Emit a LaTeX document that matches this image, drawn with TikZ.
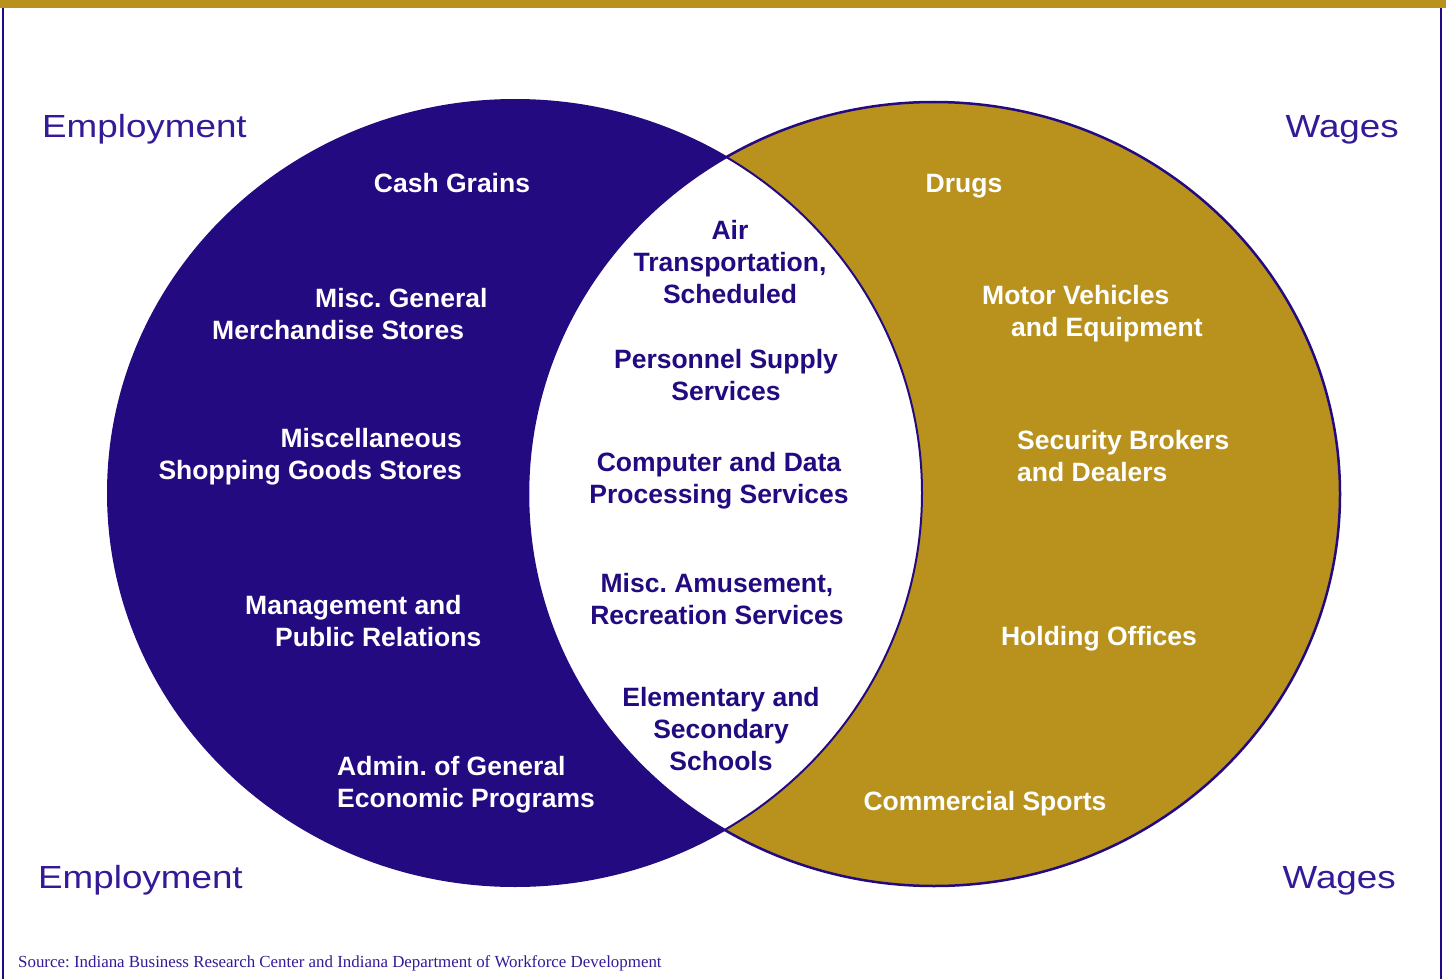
\documentclass[tikz,border=0pt]{standalone}
\usepackage{fontspec}
\setmainfont{Liberation Sans}
\newfontfamily\sidefont[FakeStretch=1.15]{Liberation Sans}
\newfontfamily\srcfont{Liberation Serif}
\usetikzlibrary{positioning}
\frenchspacing
\definecolor{vennpurple}{RGB}{36,10,128}
\definecolor{venngold}{RGB}{184,146,28}
\definecolor{labelpurple}{RGB}{52,26,150}
\tikzstyle{inlabel} = [text=white, inner sep=0pt, font=\fontsize{26.5}{32}\selectfont\bfseries]
\tikzstyle{midlabel} = [text=vennpurple, inner sep=0pt, align=center, font=\fontsize{26.5}{32}\selectfont\bfseries]
\tikzstyle{sidelabel} = [text=labelpurple, inner sep=0pt, font=\sidefont\fontsize{32}{38}\selectfont]
\tikzstyle{srclabel} = [text=labelpurple, inner sep=0pt, anchor=base west, font=\srcfont\fontsize{16.9}{20}\selectfont]

\begin{document}
\begin{tikzpicture}[x=1pt,y=-1pt]
\useasboundingbox (0,0) rectangle (1446,979);
\fill[venngold] (0,0) rectangle (1446,8);
\draw[vennpurple,line width=2pt] (3,8) -- (3,979);
\draw[vennpurple,line width=2pt] (1441,8) -- (1441,979);

\fill[vennpurple] (515,493) ellipse [x radius=407pt, y radius=393pt];
\fill[venngold] (934,494) ellipse [x radius=406pt, y radius=392pt];
\begin{scope}
\clip (515,493) ellipse [x radius=407pt, y radius=393pt];
\fill[white] (934,494) ellipse [x radius=406pt, y radius=392pt];
\end{scope}
\draw[vennpurple,line width=2.5pt] (934,494) ellipse [x radius=406pt, y radius=392pt];
\draw[vennpurple,line width=2pt] (515,493) ellipse [x radius=407pt, y radius=393pt];

\node (emptop) [sidelabel,anchor=base west] at (42,138) {Employment};
\node (wagtop) [sidelabel,anchor=base east] at (1399,138) {Wages};
\node (empbot) [sidelabel,anchor=base west] at (38,888) {Employment};
\node (wagbot) [sidelabel,anchor=base east] at (1396,888) {Wages};

\node (grains) [inlabel,anchor=base] at (452,192) {Cash Grains};
\node (merch) [inlabel,anchor=west,align=left] at (212,314) {\hspace*{103pt}Misc. General\\Merchandise Stores};
\node (shop) [inlabel,anchor=east,align=right] at (462,457) {Miscellaneous\\Shopping Goods Stores};
\node (mgmt) [inlabel,anchor=west,align=left] at (245,621) {Management and\\\hspace*{30pt}Public Relations};
\node (admin) [inlabel,anchor=west,align=left] at (337,785) {Admin. of General\\Economic Programs};

\node (drugs) [inlabel,anchor=base] at (964,192) {Drugs};
\node (motor) [inlabel,anchor=west,align=left] at (982,314) {Motor Vehicles\\\hspace*{29pt}and Equipment};
\node (broker) [inlabel,anchor=west,align=left] at (1017,456) {Security Brokers\\and Dealers};
\node (holding) [inlabel,anchor=base] at (1099,645) {Holding Offices};
\node (sports) [inlabel,anchor=base] at (985,810) {Commercial Sports};

\node (air) [midlabel] at (730,262) {Air\\Transportation,\\Scheduled};
\node (personnel) [midlabel] at (726,375) {Personnel Supply\\Services};
\node (computer) [midlabel] at (719,481) {Computer and Data\\Processing Services};
\node (amuse) [midlabel] at (717,599) {Misc. Amusement,\\Recreation Services};
\node (schools) [midlabel] at (721,729) {Elementary and\\Secondary\\Schools};

\node (source) [srclabel] at (18,967) {Source: Indiana Business Research Center and Indiana Department of Workforce Development};

\end{tikzpicture}
\end{document}
